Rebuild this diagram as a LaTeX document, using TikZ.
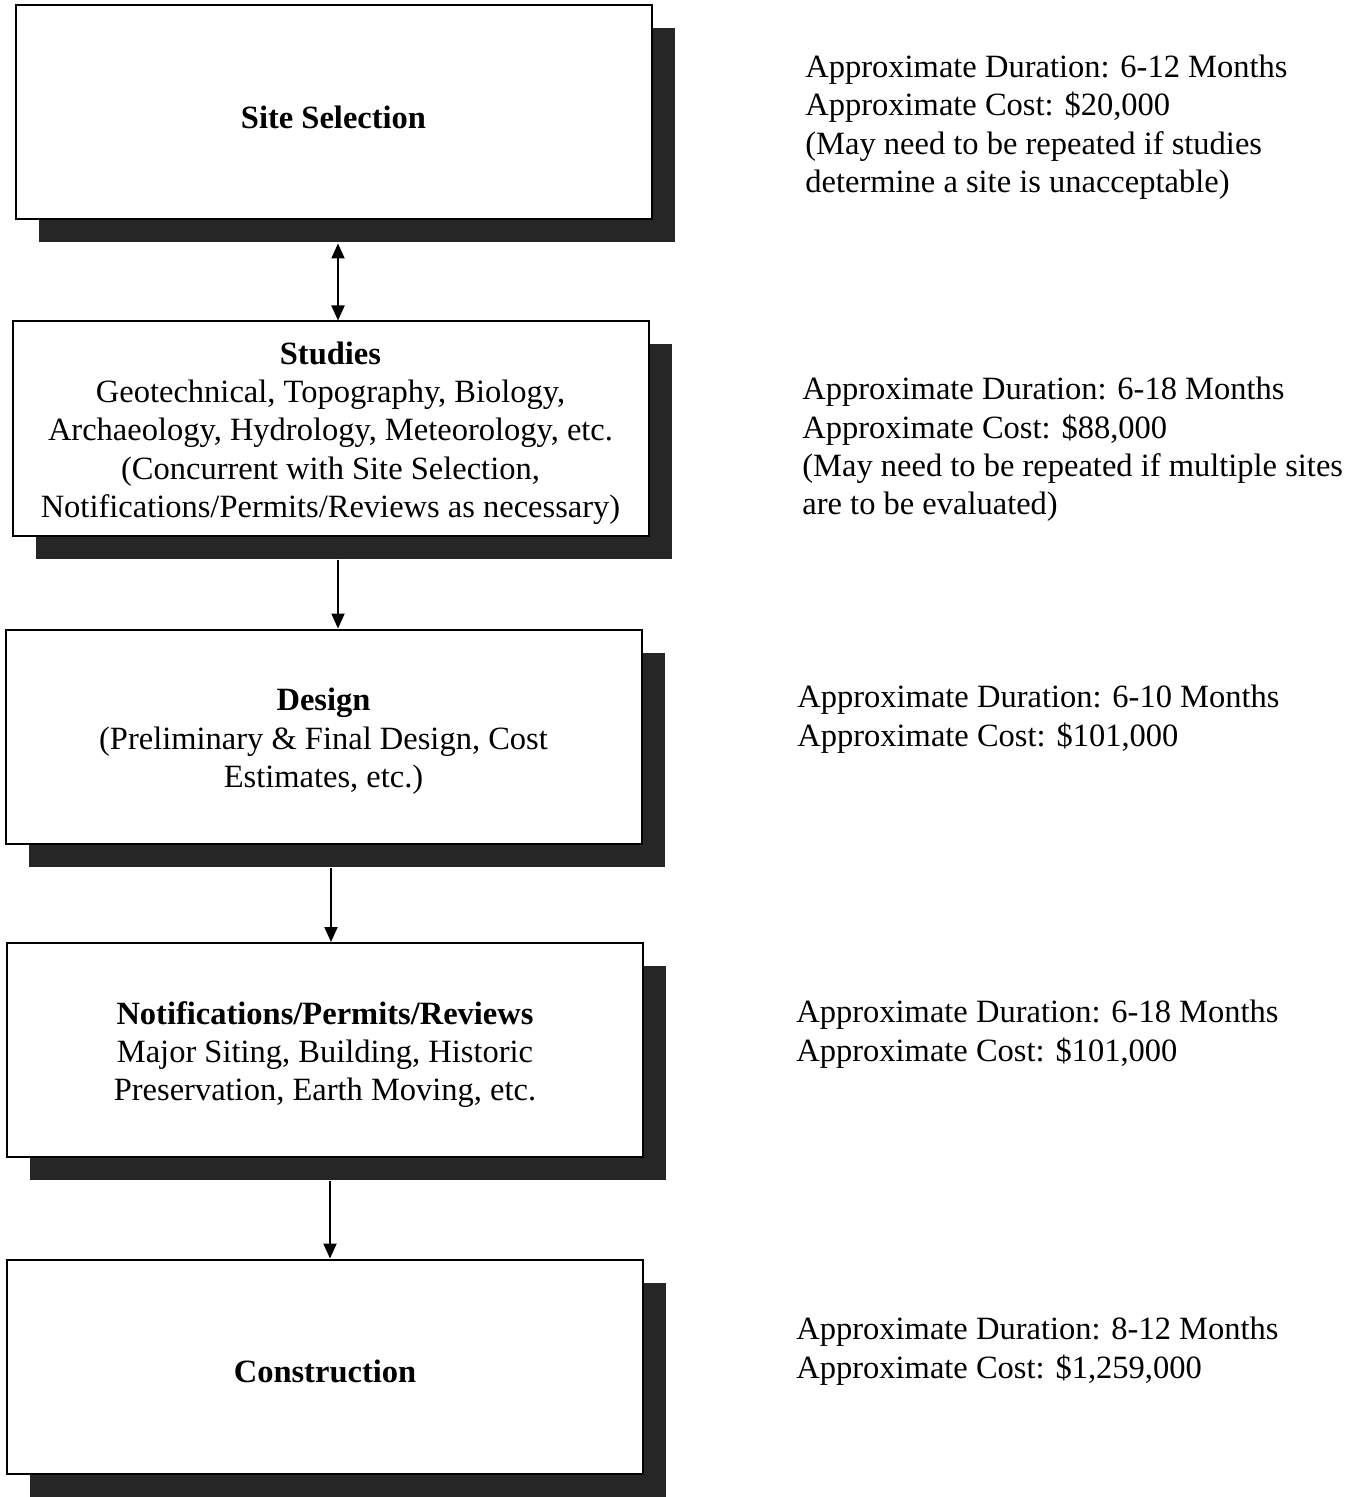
\documentclass[tikz,border=0pt]{standalone}
\usepackage{fontspec}
\setmainfont{Liberation Serif}
\usetikzlibrary{shadows,arrows.meta,calc}
\definecolor{shadowc}{HTML}{262626}
\newcommand{\boxstrut}{\rule{0pt}{16pt}}
\begin{document}
\begin{tikzpicture}[x=0.5pt,y=-0.5pt,
  txt/.style={font=\fontsize{16.25}{19.2}\selectfont},
  box/.style={txt, draw=black, line width=1pt, fill=white,
    minimum width=318pt, minimum height=107pt, align=center, inner sep=0pt,
    drop shadow={shadow xshift=11.5pt, shadow yshift=-11.5pt, fill=shadowc, opacity=1}},
  note/.style={txt, anchor=west, align=left, inner sep=0pt},
  tip/.tip={Triangle[length=7.5pt,width=6.5pt]},
  conn/.style={line width=1pt, -tip}
]
\useasboundingbox[fill=white] (0,0) rectangle (1354,1497);

\node[box] (b1) at (333.5,112.5) {\boxstrut\textbf{Site Selection}};
\node[box] (b2) at (330.5,428.5) {\boxstrut\textbf{Studies}\\Geotechnical, Topography, Biology,\\Archaeology, Hydrology, Meteorology, etc.\\(Concurrent with Site Selection,\\Notifications/Permits/Reviews as necessary)};
\node[box] (b3) at (323.5,736.5) {\boxstrut\textbf{Design}\\(Preliminary \& Final Design, Cost\\Estimates, etc.)};
\node[box] (b4) at (325,1050) {\boxstrut\textbf{Notifications/Permits/Reviews}\\Major Siting, Building, Historic\\Preservation, Earth Moving, etc.};
\node[box] (b5) at (325,1366.5) {\boxstrut\textbf{Construction}};

\node[note] (n1) at (805,127) {Approximate Duration: 6-12 Months\\Approximate Cost: \$20,000\\(May need to be repeated if studies\\determine a site is unacceptable)};
\node[note] (n2) at (802,449.5) {Approximate Duration: 6-18 Months\\Approximate Cost: \$88,000\\(May need to be repeated if multiple sites\\are to be evaluated)};
\node[note] (n3) at (797,719) {Approximate Duration: 6-10 Months\\Approximate Cost: \$101,000};
\node[note] (n4) at (796,1034) {Approximate Duration: 6-18 Months\\Approximate Cost: \$101,000};
\node[note] (n5) at (796,1351) {Approximate Duration: 8-12 Months\\Approximate Cost: \$1,259,000};

\draw[line width=1pt, tip-tip] ($(b1.south)+(4.5,23)$) -- ($(b2.north)+(7.5,0)$);
\draw[conn] ($(b2.south)+(7.5,23)$) -- ($(b3.north)+(14.5,0)$);
\draw[conn] ($(b3.south)+(7.5,23)$) -- ($(b4.north)+(6,0)$);
\draw[conn] ($(b4.south)+(5,23)$) -- ($(b5.north)+(5,0)$);
\end{tikzpicture}
\end{document}
